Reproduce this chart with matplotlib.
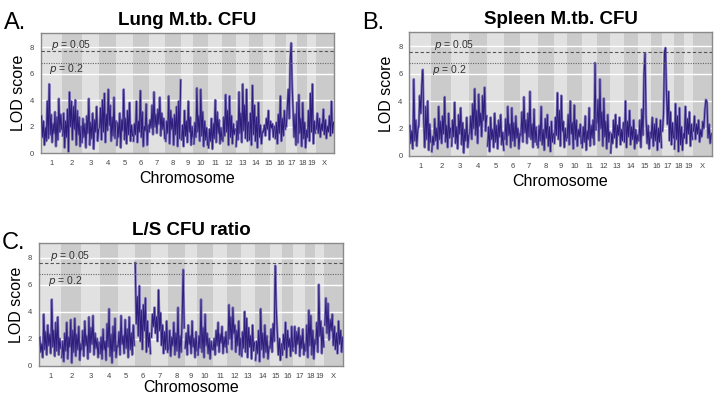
import matplotlib
matplotlib.use("Agg")
import matplotlib.pyplot as plt
import numpy as np

plt.rcParams['font.family'] = ['Liberation Sans', 'DejaVu Sans']

# chromosome names and relative map lengths (as drawn)
chroms = ['1', '2', '3', '4', '5', '6', '7', '8', '9', '10',
          '11', '12', '13', '14', '15', '16', '17', '18', '19', 'X']
chrom_len = [64, 58, 53, 52, 50, 47, 50, 48, 37, 44,
             43, 40, 40, 42, 36, 33, 35, 29, 26, 55]

# LOD scores, one list per chromosome
lung_lod = [
    [2.8, 1.2, 2.4, 0.6, 1.9, 0.9, 3.9, 1.1, 5.2, 1.4, 2.9, 0.8, 2.2, 1.5, 3.1, 0.5, 2.7, 1.0, 4.1, 1.6, 2.9, 1.8],
    [1.3, 3.0, 0.4, 2.4, 1.2, 3.3, 0.1, 4.6, 2.0, 3.9, 1.0, 3.5, 1.8, 4.0, 0.6, 3.2, 1.4, 2.7, 0.5, 2.0],
    [0.8, 2.6, 1.2, 2.2, 0.4, 2.8, 1.5, 4.1, 0.6, 2.3, 1.1, 3.0, 0.3, 2.5, 1.6, 3.5, 0.9, 1.8],
    [1.9, 3.4, 1.0, 4.0, 1.6, 4.5, 0.8, 2.9, 1.7, 4.8, 2.1, 3.6, 0.9, 2.7, 1.3, 4.2, 1.1, 2.4],
    [0.6, 2.3, 1.2, 3.0, 0.4, 2.5, 1.7, 4.8, 1.0, 2.6, 0.7, 3.2, 1.4, 3.8, 0.9, 2.1, 1.3],
    [0.9, 2.2, 1.4, 3.9, 0.8, 2.4, 1.6, 4.7, 1.2, 3.1, 0.5, 2.0, 1.7, 3.7, 0.6, 2.1],
    [1.6, 2.5, 1.9, 3.6, 1.4, 4.6, 2.0, 2.9, 1.5, 3.3, 2.2, 4.2, 1.3, 3.0, 1.8, 2.6, 1.1],
    [0.9, 2.4, 1.5, 4.3, 0.7, 3.2, 1.8, 2.6, 0.6, 2.9, 1.4, 3.5, 0.5, 3.9, 1.1, 5.5],
    [1.0, 2.1, 0.5, 3.2, 1.3, 2.4, 0.8, 3.9, 1.6, 2.7, 0.6, 2.0, 1.2],
    [0.7, 2.3, 1.2, 4.9, 1.6, 2.8, 0.9, 4.8, 1.3, 3.1, 0.5, 2.4, 1.0, 1.9, 0.6],
    [0.4, 1.8, 0.9, 2.6, 0.3, 2.2, 1.1, 4.0, 0.8, 3.1, 1.5, 2.5, 0.7, 1.9, 1.0],
    [0.9, 2.7, 1.3, 4.4, 1.6, 3.2, 0.6, 4.3, 1.2, 2.8, 0.7, 2.2, 1.4, 1.8],
    [0.5, 2.4, 1.0, 4.6, 1.5, 3.0, 0.8, 5.2, 1.7, 3.6, 1.1, 4.8, 0.9, 2.3],
    [1.0, 3.0, 0.6, 5.1, 1.4, 3.6, 0.9, 2.7, 0.4, 3.8, 1.2, 2.1, 0.7, 1.6],
    [1.6, 2.1, 1.3, 2.6, 1.8, 3.2, 1.0, 2.4, 1.9, 2.2, 1.2, 2.0],
    [1.1, 2.3, 0.7, 2.9, 1.5, 4.3, 0.9, 2.6, 1.3, 3.2, 1.8],
    [2.0, 3.4, 4.8, 2.6, 7.0, 8.3, 5.1, 3.1, 1.2, 2.9, 0.6, 3.8],
    [0.8, 4.4, 1.5, 2.6, 0.5, 3.8, 1.1, 2.3, 0.4, 1.7],
    [1.2, 3.2, 0.9, 4.5, 1.6, 5.2, 0.7, 2.4, 1.5],
    [1.8, 3.0, 1.5, 2.6, 1.2, 2.2, 1.7, 3.3, 1.4, 2.5, 1.1, 2.0, 1.6, 2.8, 1.3, 3.9, 1.5, 2.3],
]

spleen_lod = [
    [2.2, 0.9, 1.8, 0.5, 5.6, 1.1, 2.6, 0.7, 1.9, 2.2, 4.4, 3.1, 5.2, 6.3, 2.4, 0.6, 3.6, 1.2, 4.0, 0.4, 2.3, 1.0],
    [0.3, 1.4, 0.8, 2.7, 1.1, 2.0, 0.5, 3.6, 1.2, 2.5, 0.9, 2.9, 1.6, 4.3, 1.0, 2.2, 0.6, 3.1, 1.3, 2.0],
    [0.7, 2.6, 1.4, 3.9, 0.9, 2.1, 0.5, 3.0, 1.6, 3.5, 0.8, 2.4, 0.2, 1.9, 1.1, 2.8, 0.6, 1.5],
    [1.6, 2.9, 1.2, 3.8, 2.0, 4.9, 1.5, 3.3, 0.9, 4.5, 2.2, 3.1, 1.4, 4.4, 2.6, 5.0, 1.8, 2.9],
    [0.7, 2.1, 0.3, 2.8, 1.2, 1.9, 0.6, 3.1, 1.0, 2.2, 0.5, 2.6, 1.4, 3.0, 0.8, 1.7, 0.4],
    [1.2, 2.7, 0.8, 3.6, 1.5, 2.3, 0.6, 3.5, 1.1, 2.4, 0.7, 2.9, 1.3, 2.0, 0.5, 1.6],
    [1.5, 3.2, 1.0, 4.3, 1.7, 2.6, 0.9, 3.1, 1.4, 4.7, 1.2, 2.3, 0.6, 3.4, 1.0, 2.1, 0.8],
    [0.6, 2.2, 1.1, 3.6, 0.8, 1.9, 0.4, 2.7, 1.3, 3.0, 0.7, 2.1, 0.3, 2.5, 1.0, 1.6],
    [0.9, 2.8, 1.5, 4.6, 1.2, 3.3, 0.7, 4.4, 1.8, 2.5, 0.6, 2.0, 1.1],
    [1.3, 3.0, 0.8, 4.0, 1.6, 2.4, 0.5, 3.7, 1.2, 2.6, 0.7, 1.9, 1.4, 2.3, 0.9],
    [0.6, 2.1, 1.0, 2.9, 0.4, 1.8, 1.2, 3.5, 0.7, 2.2, 1.3, 2.6, 0.8, 6.8, 1.9],
    [2.4, 4.1, 1.1, 5.6, 2.0, 3.2, 0.7, 4.2, 1.4, 2.5, 0.5, 3.0, 1.0, 1.7],
    [0.2, 1.6, 0.9, 2.6, 1.3, 3.0, 0.6, 2.2, 1.5, 2.8, 0.8, 1.9, 1.1, 2.4],
    [1.0, 4.0, 0.6, 2.5, 1.4, 3.3, 0.8, 2.1, 1.2, 2.6, 0.5, 1.9, 0.9, 1.5],
    [1.1, 2.6, 0.6, 3.4, 1.5, 6.0, 7.5, 2.8, 0.9, 2.2, 0.5, 1.7],
    [1.3, 2.8, 0.7, 2.3, 1.1, 2.7, 0.4, 2.0, 1.0, 2.6, 0.6],
    [1.8, 3.0, 7.6, 7.9, 4.5, 2.3, 4.7, 1.1, 3.2, 0.8, 2.4, 1.3],
    [0.5, 3.8, 1.2, 2.9, 0.3, 3.5, 0.8, 2.1, 0.4, 1.6],
    [1.3, 3.6, 0.9, 2.7, 1.6, 3.2, 0.7, 2.3, 1.2],
    [1.8, 2.9, 1.2, 2.3, 1.6, 2.6, 1.0, 1.9, 1.4, 2.5, 2.0, 3.4, 4.1, 3.9, 1.3, 2.3, 0.9, 1.6],
]

ratio_lod = [
    [2.1, 1.0, 1.6, 0.6, 3.8, 1.2, 2.5, 0.8, 3.0, 1.5, 2.3, 0.9, 4.9, 1.4, 2.6, 0.7, 3.2, 1.1, 3.6, 0.8, 2.0, 1.3],
    [0.6, 1.8, 0.3, 2.4, 1.1, 3.2, 0.5, 2.1, 1.4, 3.4, 0.2, 2.6, 1.0, 3.5, 0.7, 2.3, 1.2, 2.9, 0.4, 1.6],
    [1.2, 2.6, 0.7, 3.3, 1.5, 2.2, 0.5, 3.6, 1.0, 2.8, 1.6, 3.7, 0.8, 2.4, 1.3, 2.0, 0.6, 1.7],
    [0.9, 2.1, 0.5, 2.7, 1.2, 1.8, 0.4, 3.1, 1.4, 4.2, 0.7, 2.3, 0.2, 2.9, 1.1, 3.5, 0.6, 1.5],
    [1.4, 2.5, 0.8, 3.7, 1.6, 2.2, 0.9, 3.4, 1.3, 2.7, 0.6, 3.6, 1.2, 2.4, 0.8, 3.0, 1.5],
    [7.6, 3.1, 5.1, 2.2, 5.9, 1.8, 4.1, 1.2, 4.5, 2.6, 5.0, 1.0, 3.3, 1.4, 2.4, 0.9],
    [2.1, 3.8, 2.9, 4.3, 2.4, 3.6, 1.8, 5.6, 2.6, 3.9, 1.5, 3.0, 0.9, 2.5, 1.2, 3.3, 1.0],
    [1.2, 2.6, 0.7, 2.1, 1.5, 3.2, 0.8, 2.4, 1.1, 4.3, 0.6, 2.2, 1.0, 3.5, 7.1, 2.8],
    [1.3, 2.4, 0.8, 3.0, 1.6, 2.2, 0.9, 3.3, 1.4, 2.0, 0.6, 2.5, 1.1],
    [0.8, 2.2, 1.3, 4.9, 1.0, 2.8, 0.6, 3.8, 1.5, 2.4, 0.9, 2.0, 0.5, 1.8, 1.2],
    [1.2, 2.0, 0.8, 2.6, 1.5, 3.2, 1.0, 2.3, 1.7, 2.9, 0.9, 2.1, 1.4, 2.5, 1.0],
    [1.6, 4.5, 2.0, 3.6, 1.2, 4.3, 2.4, 3.0, 1.0, 2.6, 1.5, 3.3, 0.8, 2.0],
    [0.7, 2.5, 1.3, 4.0, 1.0, 3.5, 0.6, 2.8, 1.4, 2.2, 0.5, 3.0, 1.1, 1.7],
    [0.4, 1.8, 0.9, 2.6, 0.3, 4.2, 1.2, 2.4, 0.6, 3.0, 1.0, 2.2, 0.5, 1.4],
    [1.3, 2.7, 1.0, 3.1, 1.8, 7.4, 4.2, 2.5, 0.8, 2.0, 0.4, 1.6],
    [0.8, 2.3, 1.2, 3.2, 0.6, 2.6, 1.4, 2.0, 0.7, 2.9, 1.1],
    [1.4, 2.9, 0.9, 2.5, 1.6, 2.8, 0.7, 2.2, 1.3, 2.7, 0.8, 1.6],
    [1.1, 3.0, 0.6, 4.1, 1.5, 3.7, 0.8, 2.6, 0.5, 1.9],
    [1.6, 3.2, 1.0, 6.0, 2.2, 3.3, 0.9, 2.8, 1.4],
    [3.0, 5.0, 2.4, 4.6, 1.9, 3.4, 2.6, 3.8, 1.5, 2.9, 1.2, 2.4, 0.9, 3.3, 1.6, 2.6, 1.0, 2.1],
]

titles = ['Lung M.tb. CFU', 'Spleen M.tb. CFU', 'L/S CFU ratio']
letters = ['A.', 'B.', 'C.']
thr_05 = [7.7, 7.63, 7.63]
thr_20 = [6.83, 6.77, 6.8]

fig = plt.figure(figsize=(7.14, 3.97), dpi=100)

# axes boxes in figure fractions
boxes = [[0.0574, 0.6146, 0.4104, 0.302],
         [0.5733, 0.608, 0.4235, 0.311],
         [0.0550, 0.0790, 0.4258, 0.308]]
letter_pos = [(0.005, 0.97), (0.507, 0.97), (0.003, 0.415)]
p05_x = [0.034, 0.08, 0.034]
xlab_pad = [3, 3, 0.5]

starts = np.concatenate([[0], np.cumsum(chrom_len)[:-1]])
ends = np.cumsum(chrom_len)
mids = (starts + ends) / 2.0

for k, lod in enumerate([lung_lod, spleen_lod, ratio_lod]):
    ax = fig.add_axes(boxes[k])
    ax.set_xlim(0, ends[-1])
    ax.set_ylim(0, 9.05)

    # alternating chromosome bands
    for i in range(len(chroms)):
        ax.axvspan(starts[i], ends[i], color='#e1e1e1' if i % 2 == 0 else '#cbcbcb',
                   lw=0, zorder=0)
    for yy in [2, 4, 6, 8]:
        ax.axhline(yy, color='white', lw=1.0, zorder=1)

    # LOD trace, each chromosome separately
    for i, vals in enumerate(lod):
        n = len(vals)
        xs = starts[i] + (np.arange(n) + 0.5) * chrom_len[i] / n
        ax.plot(xs, vals, color='#8077b9', lw=1.8, zorder=2)
        ax.plot(xs, vals, color='#2e1d7c', lw=0.7, zorder=3)

    ax.axhline(thr_05[k], color='#555555', lw=0.8, ls=(0, (3, 2)), zorder=4)
    ax.axhline(thr_20[k], color='#666666', lw=0.8, ls=(0, (1, 1.2)), zorder=4)
    ax.text(p05_x[k], thr_05[k] + 0.45, r'$p$ = 0.05', transform=ax.get_yaxis_transform(),
            fontsize=7.5, color='#333333', va='center', ha='left', zorder=5)
    ax.text(p05_x[k] - 0.005, thr_20[k] - 0.5, r'$p$ = 0.2', transform=ax.get_yaxis_transform(),
            fontsize=7.5, color='#333333', va='center', ha='left', zorder=5)

    ax.set_xticks(mids)
    ax.set_xticklabels(chroms, fontsize=5.5, color='#444444')
    ax.set_yticks([0, 2, 4, 6, 8])
    ax.set_yticklabels(['0', '2', '4', '6', '8'], fontsize=5.5, color='#444444')
    ax.tick_params(length=0, pad=5)
    for sp in ax.spines.values():
        sp.set_color('#8a8a8a')
        sp.set_linewidth(1.0)

    ax.set_xlabel('Chromosome', fontsize=11.5, labelpad=xlab_pad[k])
    ax.set_ylabel('LOD score', fontsize=11.5, labelpad=3)
    ax.set_title(titles[k], fontsize=13.5, fontweight='bold', pad=6)
    fig.text(letter_pos[k][0], letter_pos[k][1], letters[k], fontsize=17, va='top', ha='left')

fig.savefig('out.png', dpi=100)
